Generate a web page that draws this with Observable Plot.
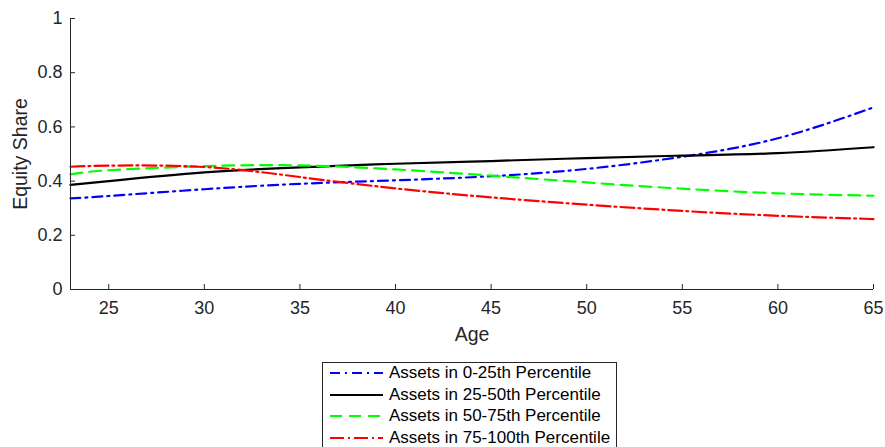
<!DOCTYPE html>
<html><head><meta charset="utf-8">
<script src="https://cdn.jsdelivr.net/npm/d3@7"></script>
<script src="https://cdn.jsdelivr.net/npm/@observablehq/plot@0.6"></script>
<style>
body{margin:0;background:#fff;font-family:"Liberation Sans",Arial,sans-serif;}
#chart{width:885px;}
#legend{position:absolute;left:322px;top:362px;width:295px;height:90px;border:1px solid #262626;box-sizing:border-box;background:#fff;}
.row{position:absolute;left:0;height:20px;display:flex;align-items:center;font-size:17px;color:#000;white-space:nowrap;}
.row svg{margin-left:7px;margin-right:6px;}
</style></head>
<body><div id="chart"></div><div id="legend"></div>
<script>
const ages = [23, 25, 30, 35, 40, 45, 50, 55, 60, 65];
const seriesNames = ["Assets in 0-25th Percentile","Assets in 25-50th Percentile","Assets in 50-75th Percentile","Assets in 75-100th Percentile"];
const q1 = [0.336, 0.345, 0.370, 0.390, 0.403, 0.418, 0.445, 0.490, 0.558, 0.672];
const q2 = [0.386, 0.400, 0.432, 0.451, 0.464, 0.474, 0.485, 0.494, 0.503, 0.525];
const q3 = [0.425, 0.440, 0.455, 0.458, 0.443, 0.420, 0.395, 0.372, 0.355, 0.346];
const q4 = [0.453, 0.457, 0.452, 0.415, 0.373, 0.340, 0.313, 0.290, 0.272, 0.260];
const xTicks = [25, 30, 35, 40, 45, 50, 55, 60, 65];
const yTicks = [0, 0.2, 0.4, 0.6, 0.8, 1];

const colors = ["#0000ff", "#000000", "#00ff00", "#ff0000"];
const dashes = ["10,5,2,5", null, "12,7", "14,4,2,4"];
const values = [q1, q2, q3, q4];
const data = [];
values.forEach((arr, s) => arr.forEach((v, i) => data.push({age: ages[i], share: v, s})));

const plot = Plot.plot({
  width: 885, height: 345,
  marginLeft: 70, marginRight: 12, marginTop: 18, marginBottom: 56,
  style: {fontFamily: '"Liberation Sans", Arial, sans-serif', fontSize: "18px", color: "#262626", background: "#fff"},
  x: {domain: [23, 65]},
  y: {domain: [0, 1]},
  marks: [
    ...values.map((arr, s) => Plot.line(data.filter(d => d.s === s), {
      x: "age", y: "share", stroke: colors[s], strokeWidth: 2.2,
      strokeDasharray: dashes[s], curve: "natural"
    })),
    Plot.ruleX([23], {stroke: "#262626"}),
    Plot.ruleY([0], {stroke: "#262626"}),
    Plot.axisX(xTicks, {tickSize: -5, tickPadding: 17, fontSize: 18, label: null, stroke: "#262626"}),
    Plot.axisY(yTicks, {tickSize: -5, tickPadding: 13, fontSize: 18, label: null, tickFormat: d => String(d), stroke: "#262626"}),
    Plot.text(["Age"], {frameAnchor: "bottom", dy: 51, fontSize: 19.5, fill: "#262626"}),
    Plot.text(["Equity Share"], {frameAnchor: "left", textAnchor: "middle", lineAnchor: "middle", dx: -50, rotate: -90, fontSize: 19.5, fill: "#262626"})
  ]
});
document.getElementById("chart").appendChild(plot);

const legend = document.getElementById("legend");
seriesNames.forEach((name, s) => {
  const row = document.createElement("div");
  row.className = "row";
  row.style.top = (0 + s * 21.5) + "px";
  const dash = dashes[s] ? ` stroke-dasharray="${dashes[s]}"` : "";
  row.innerHTML = `<svg width="53" height="10"><line x1="0" y1="5" x2="53" y2="5" stroke="${colors[s]}" stroke-width="2.2"${dash}/></svg><span>${name}</span>`;
  legend.appendChild(row);
});
</script></body></html>
